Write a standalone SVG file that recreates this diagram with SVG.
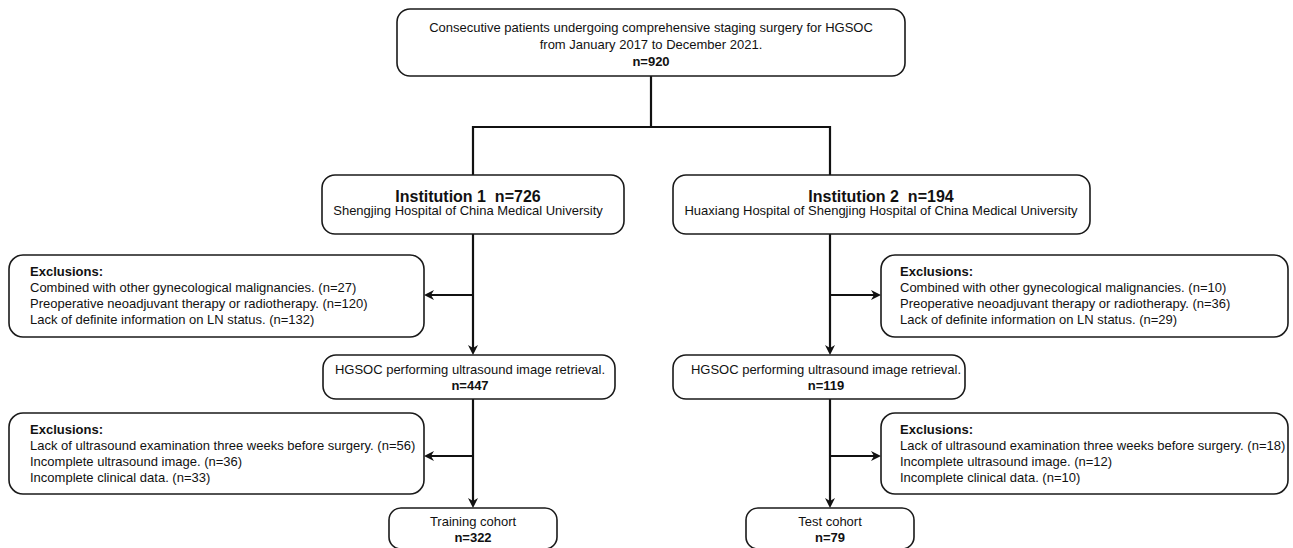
<svg xmlns="http://www.w3.org/2000/svg" width="1293" height="548" viewBox="0 0 1293 548">
<defs>
<style>
.box{fill:#fff;stroke:#1a1a1a;stroke-width:1.6}
.t{font-family:"Liberation Sans",Arial,sans-serif;font-size:13px;fill:#111}
.c{text-anchor:middle}
.b{font-weight:bold}
.h{font-family:"Liberation Sans",Arial,sans-serif;font-size:16px;font-weight:bold;fill:#111;text-anchor:middle}
.ln{fill:none;stroke:#111;stroke-width:2.2}
</style>
<marker id="ah" markerUnits="userSpaceOnUse" markerWidth="10" markerHeight="10" refX="6" refY="5" orient="auto">
<path d="M0,0 L10,5 L0,10 L3,5 z" fill="#111"/>
</marker>
</defs>
<rect width="1293" height="548" fill="#fff"/>

<g id="connectors">
<path class="ln" d="M651,76 V127"/>
<path class="ln" d="M473,175 V127 H830 V175"/>
<path class="ln" d="M473,234 V351" marker-end="url(#ah)"/>
<path class="ln" d="M473,295 H428" marker-end="url(#ah)"/>
<path class="ln" d="M830,234 V351" marker-end="url(#ah)"/>
<path class="ln" d="M830,295 H877" marker-end="url(#ah)"/>
<path class="ln" d="M473,399 V504" marker-end="url(#ah)"/>
<path class="ln" d="M473,456 H428" marker-end="url(#ah)"/>
<path class="ln" d="M830,399 V504" marker-end="url(#ah)"/>
<path class="ln" d="M830,456 H877" marker-end="url(#ah)"/>
</g>

<g id="start">
<rect class="box" x="397" y="9" width="508" height="67" rx="13"/>
<text class="t c" x="651" y="32">Consecutive patients undergoing comprehensive staging surgery for HGSOC</text>
<text class="t c" x="651" y="49">from January 2017 to December 2021.</text>
<text class="t c b" x="651" y="66">n=920</text>
</g>

<g id="inst1">
<rect class="box" x="322" y="175" width="302" height="59" rx="13"/>
<text class="h" x="468" y="202">Institution 1&#160; n=726</text>
<text class="t c" x="468" y="215">Shengjing Hospital of China Medical University</text>
</g>

<g id="inst2">
<rect class="box" x="673" y="175" width="417" height="59" rx="13"/>
<text class="h" x="881" y="202">Institution 2&#160; n=194</text>
<text class="t c" x="881" y="215">Huaxiang Hospital of Shengjing Hospital of China Medical University</text>
</g>

<g id="excl1">
<rect class="box" x="9" y="255" width="415" height="82" rx="14"/>
<text class="t b" x="30" y="276">Exclusions:</text>
<text class="t" x="30" y="292">Combined with other gynecological malignancies. (n=27)</text>
<text class="t" x="30" y="308">Preoperative neoadjuvant therapy or radiotherapy. (n=120)</text>
<text class="t" x="30" y="324">Lack of definite information on LN status. (n=132)</text>
</g>

<g id="excl2">
<rect class="box" x="881" y="255" width="407" height="82" rx="14"/>
<text class="t b" x="900" y="276">Exclusions:</text>
<text class="t" x="900" y="292">Combined with other gynecological malignancies. (n=10)</text>
<text class="t" x="900" y="308">Preoperative neoadjuvant therapy or radiotherapy. (n=36)</text>
<text class="t" x="900" y="324">Lack of definite information on LN status. (n=29)</text>
</g>

<g id="hgsoc1">
<rect class="box" x="323" y="355" width="292" height="44" rx="13"/>
<text class="t c" x="470" y="374">HGSOC performing ultrasound image retrieval.</text>
<text class="t c b" x="470" y="390">n=447</text>
</g>

<g id="hgsoc2">
<rect class="box" x="673" y="355" width="292" height="44" rx="13"/>
<text class="t c" x="826" y="374">HGSOC performing ultrasound image retrieval.</text>
<text class="t c b" x="826" y="390">n=119</text>
</g>

<g id="excl3">
<rect class="box" x="9" y="413" width="415" height="81" rx="14"/>
<text class="t b" x="30" y="434">Exclusions:</text>
<text class="t" x="30" y="450">Lack of ultrasound examination three weeks before surgery. (n=56)</text>
<text class="t" x="30" y="466">Incomplete ultrasound image. (n=36)</text>
<text class="t" x="30" y="482">Incomplete clinical data. (n=33)</text>
</g>

<g id="excl4">
<rect class="box" x="881" y="413" width="407" height="81" rx="14"/>
<text class="t b" x="900" y="434">Exclusions:</text>
<text class="t" x="900" y="450">Lack of ultrasound examination three weeks before surgery. (n=18)</text>
<text class="t" x="900" y="466">Incomplete ultrasound image. (n=12)</text>
<text class="t" x="900" y="482">Incomplete clinical data. (n=10)</text>
</g>

<g id="train">
<rect class="box" x="389" y="508" width="168" height="41" rx="12"/>
<text class="t c" x="473" y="526">Training cohort</text>
<text class="t c b" x="473" y="542">n=322</text>
</g>

<g id="test">
<rect class="box" x="746" y="508" width="168" height="41" rx="12"/>
<text class="t c" x="830" y="526">Test cohort</text>
<text class="t c b" x="830" y="542">n=79</text>
</g>
</svg>
